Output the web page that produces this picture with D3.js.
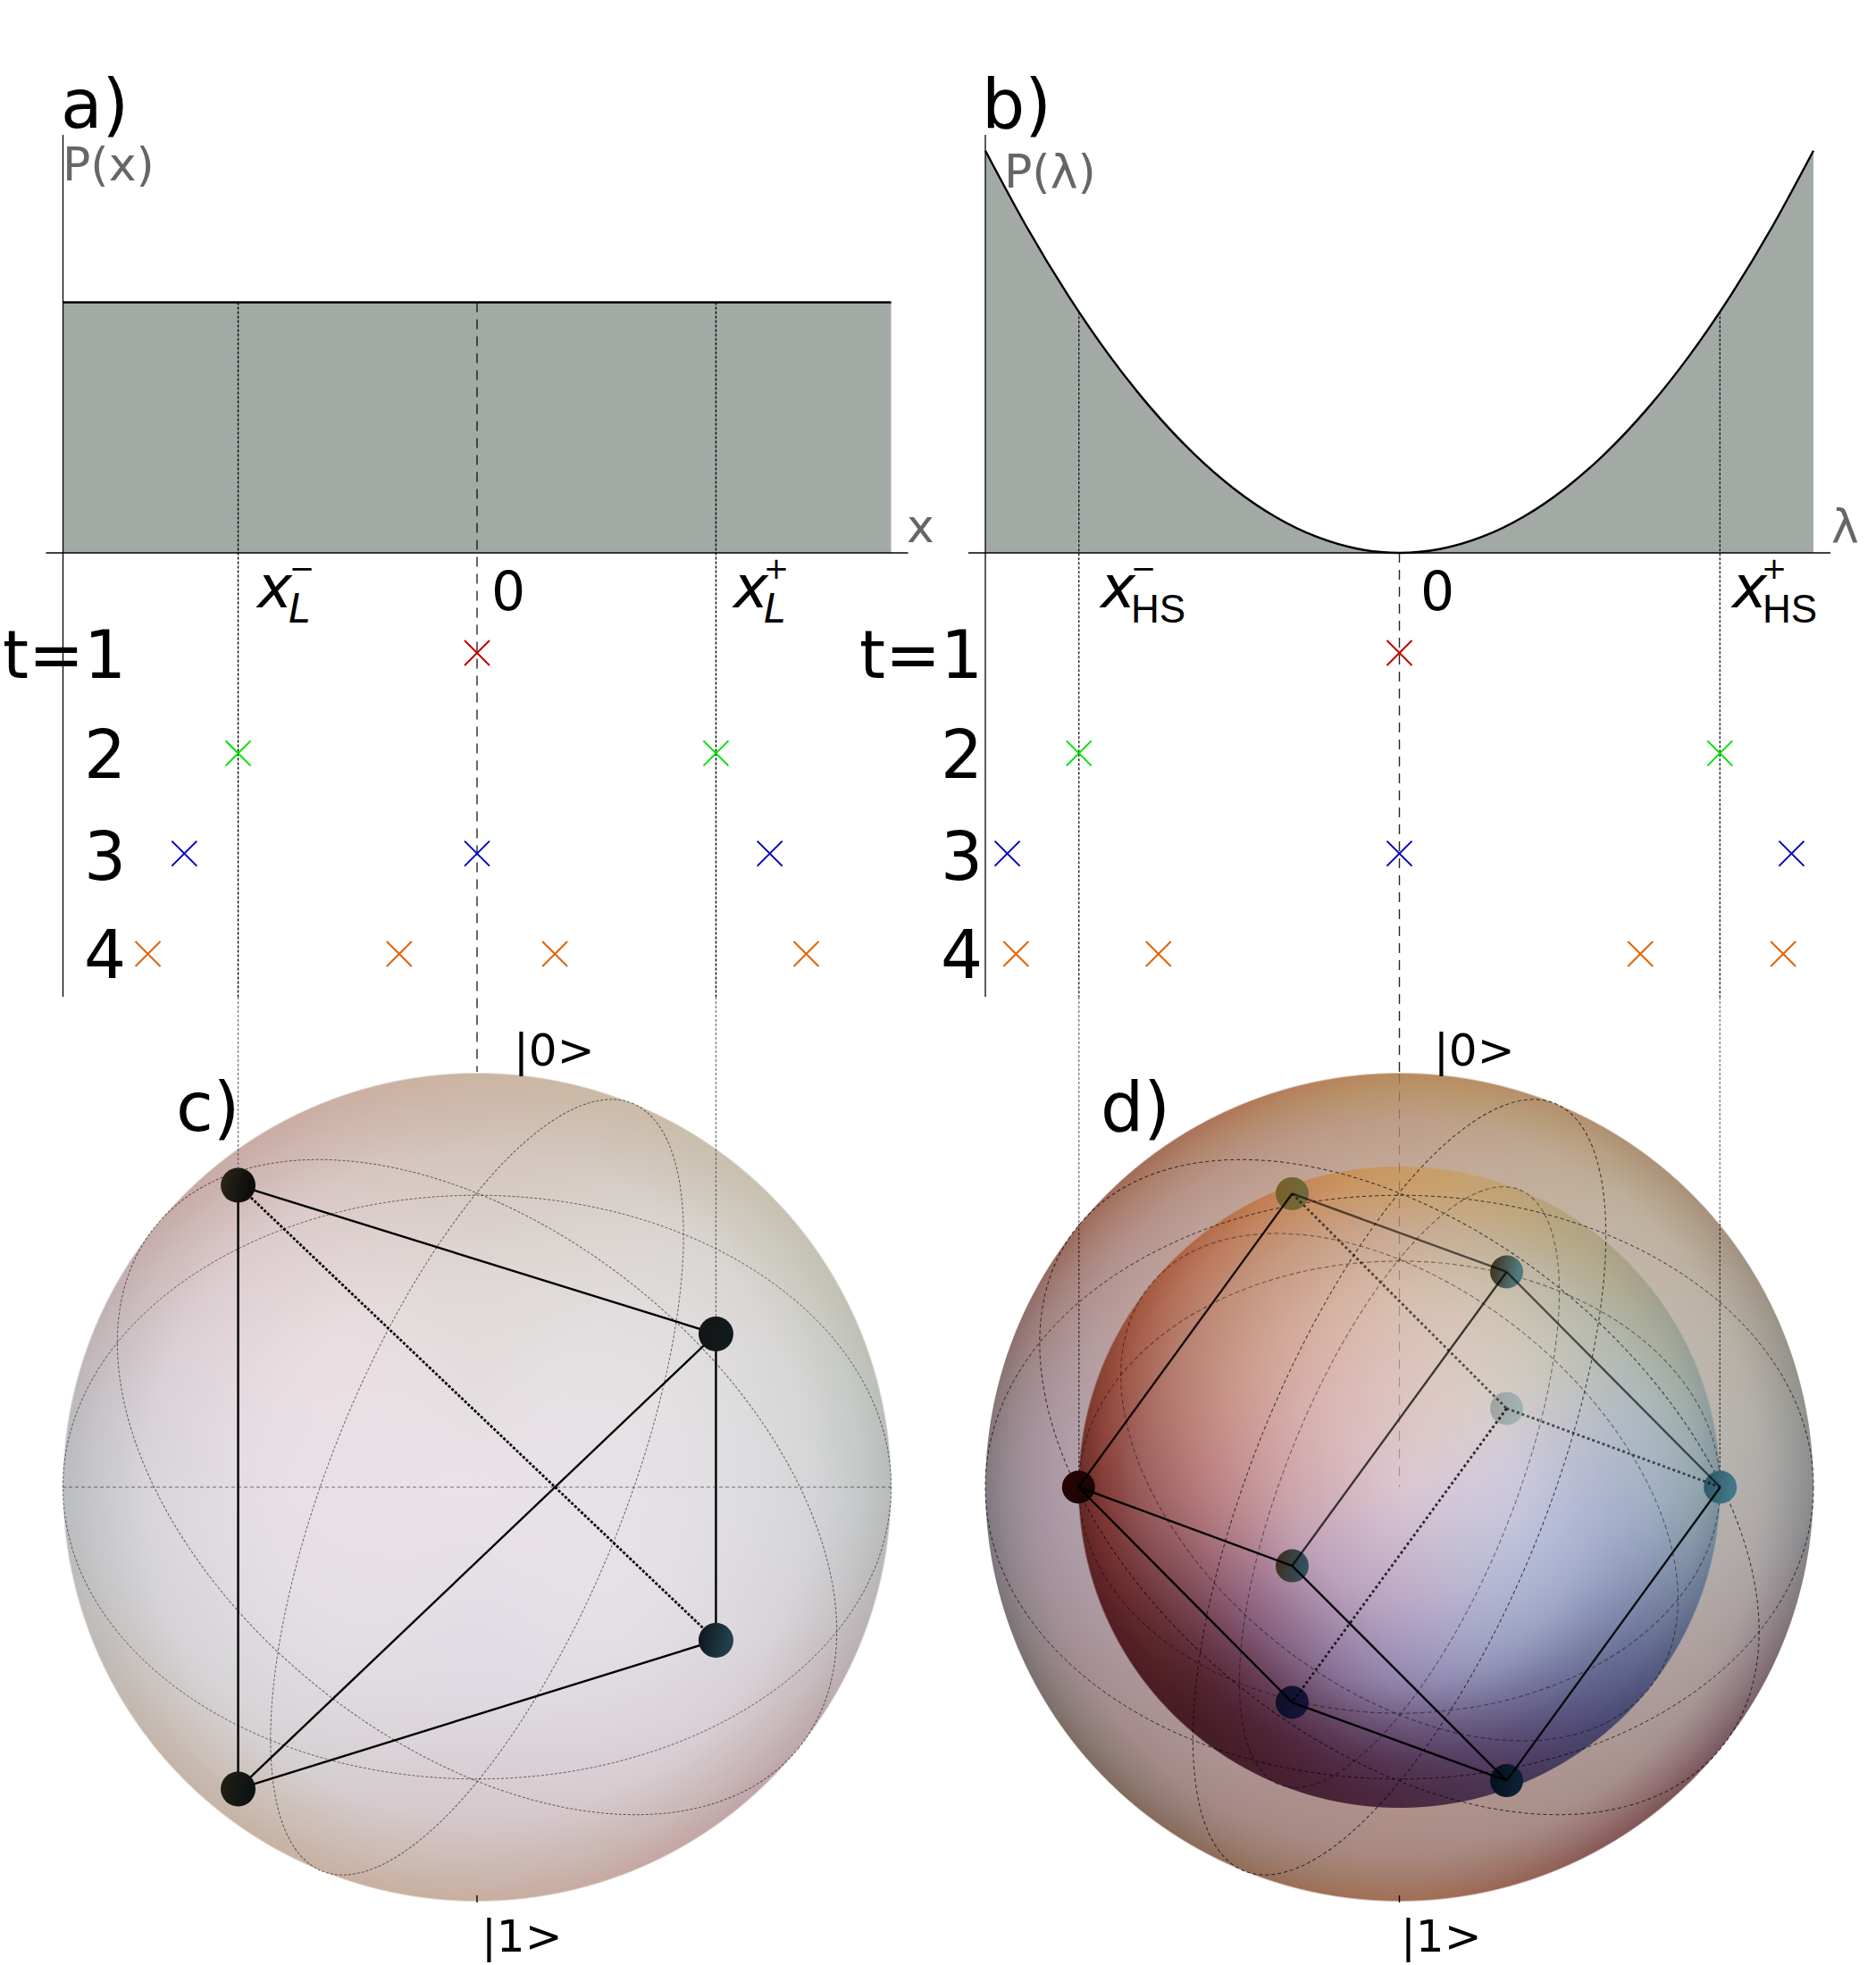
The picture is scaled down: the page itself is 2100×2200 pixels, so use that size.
<!DOCTYPE html>
<html><head><meta charset="utf-8">
<script src="https://cdn.jsdelivr.net/npm/d3@7"></script>
<style>html,body{margin:0;padding:0;background:#fff}svg{display:block}text{font-family:"DejaVu Sans",sans-serif}</style>
</head><body><div id="chart"></div>
<script>
// ---------- data ----------
const rowLabels = ["t=1","2","3","4"];
const rowTimes = [1,2,3,4];
const rowColors = ["#c00000","#00e000","#0000bc","#e06400"];
const legendreRows = [[0],[-0.577,0.577],[-0.707,0,0.707],[-0.795,-0.188,0.188,0.795]];
const hsRows = [[0],[-0.774,0.774],[-0.947,0,0.947],[-0.926,-0.582,0.582,0.927]];
const uniformX = [-1,1];
const uniformP = [0.623,0.623];
const lambdaX = [-1,-0.9,-0.8,-0.7,-0.6,-0.5,-0.4,-0.3,-0.2,-0.1,0,0.1,0.2,0.3,0.4,0.5,0.6,0.7,0.8,0.9,1];
const lambdaP = [1,0.81,0.64,0.49,0.36,0.25,0.16,0.09,0.04,0.01,0,0.01,0.04,0.09,0.16,0.25,0.36,0.49,0.64,0.81,1];
const guidesA = [-0.577,0,0.577];
const guidesB = [-0.774,0,0.774];
// Bloch vectors as seen in the view (x right, y up)
const tetraX = [-0.577,0.577,0.577,-0.577];
const tetraY = [0.729,0.370,-0.370,-0.729];
const tetraSolid = [[0,1],[0,3],[3,1],[3,2],[1,2]];
const tetraDotted = [[0,2]];
const cubeX = [-0.259,0.259,0.259,-0.775,0.775,-0.259,-0.259,0.259];
const cubeY = [0.709,0.520,0.190,0,0,-0.190,-0.520,-0.709];
const cubeSolid = [[0,3,.88],[0,1,.6],[1,4,.62],[1,5,.72],[3,5,.95],[3,6,1],[6,7,1],[5,7,.95],[4,7,.9]];
const cubeDotted = [[0,2,.62],[2,4,.62],[2,6,.8]];
const ballLeftC = ["#2a2418","#151515","#101820","#201c14"];
const ballRightC = ["#0c0c0c","#101a1c","#20404c","#0c1414"];
const ballLeftD = ["#7a5f26","#433620","#a3a39f","#2a0404","#2f5866","#3f3020","#10102a","#06101e"];
const ballRightD = ["#6f6a3c","#4f7a80","#a0b2b2","#180404","#427888","#33505e","#14143a","#0c2034"];
// great circles: major-axis tilt (degrees, clockwise from the horizontal) and minor semi-axis
const circleTilt = [0,39,-68];
const circleMinor = [0.705,0.617,0.355];

// sphere colours: ring radii and eight samples per ring (0,45,...,315 degrees, counter-clockwise from right)
const shadeC = {radii:[0,0.5,0.8,0.93,1],rows:[
 ["#e9e2e8","#e9e2e8","#e9e2e8","#e9e2e8","#e9e2e8","#e9e2e8","#e9e2e8","#e9e2e8"],
 ["#e3e0e4","#e3dfe0","#dfd8d6","#e8dde0","#e6dfe5","#e3dee3","#dfdae1","#e3dfe5"],
 ["#d6d6d8","#d9d5d2","#d4c6be","#dcccce","#d7d4da","#d6d2d4","#d5c8cb","#d8d0d5"],
 ["#c5c8c8","#cdc8bc","#ceb9ab","#cfb8b6","#c6c6ca","#cbbfb8","#ccb8b1","#c9b8ba"],
 ["#b8bcba","#c8c0b0","#cbb5a2","#c7aba8","#bbbcbf","#c4b4a8","#c9ae9f","#bfa6a8"]]};
const shadeOuter = {radii:[0,0.775,0.88,0.95,1],rows:[
 ["#b6b2ae","#c2b5a6","#c2a794","#bd9f98","#b09ea8","#ab9395","#ae9089","#ad9a98"],
 ["#b6b2ae","#c2b5a6","#c2a794","#bd9f98","#b09ea8","#ab9395","#ae9089","#ad9a98"],
 ["#aeaaa8","#bdb09e","#bd9e88","#b4928a","#a6939f","#a48a8a","#a98a82","#a5918f"],
 ["#9a9a9a","#b2a08a","#b9966f","#ab8070","#94888f","#907c76","#a37c6a","#917276"],
 ["#8a8c8c","#a8917a","#b98a5f","#a06a58","#807880","#7f6a5e","#a26e55","#7a555a"]]};
const shadeInner = {radii:[0,0.35,0.6,0.8,0.93,1],rows:[
 ["#dcc6d0","#dcc6d0","#dcc6d0","#dcc6d0","#dcc6d0","#dcc6d0","#dcc6d0","#dcc6d0"],
 ["#ccc8dc","#d8ccc9","#dcc2bc","#d8b4b2","#cca4aa","#bca0b8","#bba9c6","#bdbcd4"],
 ["#b2b8d0","#cbc6ba","#d6bcac","#cfa293","#b97f80","#8a6380","#9286ac","#9ea4c4"],
 ["#a2b0c2","#b9b8a8","#c9aa90","#c08c78","#9a5e5c","#5e3040","#604668","#6f7299"],
 ["#93a5ae","#b0aa90","#ca9e6e","#b7745a","#823c38","#4d2028","#4f2d48","#575780"],
 ["#7f929f","#a8a288","#c99a64","#ad6244","#6a2a28","#481c26","#4a2a40","#4a4a70"]]};

// ---------- helpers ----------
const W=2100,H=2200,FILL="#a3aaa6";
const svg=d3.select("#chart").append("svg").attr("width",W).attr("height",H).attr("viewBox",[0,0,W,H]);
const defs=svg.append("defs");
const xA=d3.scaleLinear([-1,1],[70.5,997.5]), xB=d3.scaleLinear([-1,1],[1103,2030]);
const yP0=619, yA=d3.scaleLinear([0,1],[yP0,168.7]);
const rowY=d3.scaleLinear([1,4],[731,1068]);
const text=(s,x,y,size,o={})=>svg.append("text").attr("x",x).attr("y",y).attr("font-size",size)
  .attr("fill",o.fill||"#000").attr("text-anchor",o.anchor||"start").attr("font-style",o.italic?"italic":null)
  .style("font-family",o.family||null).text(s);
const seg=(x1,y1,x2,y2,o={})=>svg.append("line").attr("x1",x1).attr("y1",y1).attr("x2",x2).attr("y2",y2)
  .attr("stroke",o.color||"#000").attr("stroke-width",o.w||1.4).attr("stroke-dasharray",o.dash||null).attr("stroke-opacity",o.op==null?1:o.op);

function sphereImage(sx,sy,R,shade){
  const size=Math.ceil(R*2)+4, cv=document.createElement("canvas"); cv.width=cv.height=size;
  const ctx=cv.getContext("2d"), img=ctx.createImageData(size,size), c0=size/2;
  const rows=shade.rows.map(r=>r.map(c=>{const k=d3.rgb(c);return [k.r,k.g,k.b]}));
  const cr=(a,b,c,d,t)=>0.5*((2*b)+(c-a)*t+(2*a-5*b+4*c-d)*t*t+(3*b-a-3*c+d)*t*t*t);
  const ring=(row,u,ch)=>{const i=Math.floor(u)%8,t=u-Math.floor(u);return cr(row[(i+7)%8][ch],row[i][ch],row[(i+1)%8][ch],row[(i+2)%8][ch],t)};
  const n=shade.radii.length;
  for(let py=0;py<size;py++)for(let px=0;px<size;px++){
    const dx=px+.5-c0,dy=py+.5-c0,d=Math.hypot(dx,dy),al=Math.max(0,Math.min(1,R-d+.5));
    if(al<=0)continue;
    const r=Math.min(1,d/R);let u=Math.atan2(-dy,dx)/(Math.PI/4);if(u<0)u+=8;
    let k=0;while(k<n-2&&r>shade.radii[k+1])k++;
    const t=(r-shade.radii[k])/(shade.radii[k+1]-shade.radii[k]);
    const i=(py*size+px)*4;
    for(let ch=0;ch<3;ch++){
      const b=ring(rows[k],u,ch),c=ring(rows[k+1],u,ch);
      const a=k>0?ring(rows[k-1],u,ch):2*b-c, e=k<n-2?ring(rows[k+2],u,ch):2*c-b;
      img.data[i+ch]=Math.max(Math.min(b,c)-4,Math.min(Math.max(b,c)+4,cr(a,b,c,e,t)));
    }
    img.data[i+3]=al*255;
  }
  ctx.putImageData(img,0,0);
  svg.append("image").attr("x",sx-c0).attr("y",sy-c0).attr("width",size).attr("height",size).attr("href",cv.toDataURL());
}
function circles(sx,sy,R,op,dash,w){
  const g=svg.append("g").attr("transform",`translate(${sx},${sy})`);
  g.selectAll("ellipse").data(circleTilt.map((t,i)=>[t,circleMinor[i]])).join("ellipse")
   .attr("rx",R).attr("ry",d=>d[1]*R).attr("transform",d=>`rotate(${d[0]})`)
   .attr("fill","none").attr("stroke","#000").attr("stroke-width",w).attr("stroke-opacity",op).attr("stroke-dasharray",dash);
}
function ball(x,y,r,l,rr,id){
  const g=defs.append("linearGradient").attr("id",id).attr("x1",0).attr("x2",1).attr("y1",.15).attr("y2",.35);
  g.append("stop").attr("offset",.1).attr("stop-color",l); g.append("stop").attr("offset",.9).attr("stop-color",rr);
  svg.append("circle").attr("cx",x).attr("cy",y).attr("r",r).attr("fill",`url(#${id})`);
}
const cross=(x,y,c)=>svg.append("path").attr("d",`M${x-14},${y-14}L${x+14},${y+14}M${x-14},${y+14}L${x+14},${y-14}`).attr("stroke",c).attr("stroke-width",2).attr("fill","none");

// ---------- panel a ----------
const areaA=d3.area().x(d=>xA(d[0])).y0(yP0).y1(d=>yA(d[1]));
const ptsA=uniformX.map((x,i)=>[x,uniformP[i]]);
svg.append("path").attr("d",areaA(ptsA)).attr("fill",FILL);
svg.append("path").attr("d",d3.line().x(d=>xA(d[0])).y(d=>yA(d[1]))(ptsA)).attr("fill","none").attr("stroke","#000").attr("stroke-width",2.4);
// ---------- panel b ----------
const ptsB=lambdaX.map((x,i)=>[x,lambdaP[i]]);
svg.append("path").attr("d",d3.area().curve(d3.curveNatural).x(d=>xB(d[0])).y0(yP0).y1(d=>yA(d[1]))(ptsB)).attr("fill",FILL);
svg.append("path").attr("d",d3.line().curve(d3.curveNatural).x(d=>xB(d[0])).y(d=>yA(d[1]))(ptsB)).attr("fill","none").attr("stroke","#000").attr("stroke-width",2.4);

// spheres
sphereImage(xA(0),1665,463.5,shadeC);
sphereImage(xB(0),1665,463.5,shadeOuter);
sphereImage(xB(0),1665,359,shadeInner);
circles(xB(0),1665,463.5,.72,"4 3",1);
circles(xB(0),1665,359,.42,"5 3",1.2);
circles(xA(0),1665,463.5,.55,"3 2",1);
seg(70,1665,998,1665,{dash:"4 3",w:1,op:.5});

// axes
[xA,xB].forEach(x=>{
  seg(x(-1),151,x(-1),1116,{w:1.3});
  seg(x(-1)-19,yP0,x(1)+19,yP0,{w:1.4});
});
// guide lines
guidesA.forEach(v=>{
  const x=xA(v);
  if(v===0){seg(x,yA(.623),x,1200,{dash:"11 8",w:1.4,op:.85});seg(x,2122,x,2130,{w:1.4});return}
  seg(x,yA(.623),x,1116,{dash:"3 2",w:1.4});
  seg(x,1116,x,v<0?1327:1494,{dash:"3 2",w:1.4,color:"#555",op:.75});
});
guidesB.forEach(v=>{
  const x=xB(v);
  if(v===0){seg(x,yP0,x,1200,{dash:"11 8",w:1.4,op:.85});seg(x,1202,x,1665,{dash:"11 9",w:1.2,op:.25});seg(x,2122,x,2130,{w:1.4});return}
  seg(x,yA(v*v),x,1116,{dash:"3 2",w:1.2});
  seg(x,1116,x,1370,{dash:"3 2",w:1.4,color:"#555",op:.75});
  seg(x,1370,x,1665,{dash:"3 2",w:1.2,op:.7});
});
// marks
rowTimes.forEach((t,i)=>{
  legendreRows[i].forEach(v=>cross(xA(v),rowY(t),rowColors[i]));
  hsRows[i].forEach(v=>cross(xB(v),rowY(t),rowColors[i]));
});
// tetrahedron
const sA=(v)=>xA(v), sY=d3.scaleLinear([-1,1],[1665+463.5,1665-463.5]), sB=(v)=>xB(v);
tetraSolid.forEach(([a,b])=>seg(sA(tetraX[a]),sY(tetraY[a]),sA(tetraX[b]),sY(tetraY[b]),{w:2.4}));
tetraDotted.forEach(([a,b])=>seg(sA(tetraX[a]),sY(tetraY[a]),sA(tetraX[b]),sY(tetraY[b]),{w:2.8,dash:"3 2"}));
tetraX.forEach((v,i)=>ball(sA(v),sY(tetraY[i]),19.5,ballLeftC[i],ballRightC[i],"bc"+i));
// cube
cubeX.forEach((v,i)=>ball(sB(v),sY(cubeY[i]),18.5,ballLeftD[i],ballRightD[i],"bd"+i));
cubeSolid.forEach(([a,b,o])=>seg(sB(cubeX[a]),sY(cubeY[a]),sB(cubeX[b]),sY(cubeY[b]),{w:2.4,op:o}));
cubeDotted.forEach(([a,b,o])=>seg(sB(cubeX[a]),sY(cubeY[a]),sB(cubeX[b]),sY(cubeY[b]),{w:2.8,dash:"3 3",op:o}));

// ---------- text ----------
text("a)",68,143,76); text("b)",1099,143,76); text("c)",197,1266,76); text("d)",1232,1266,76);
text("P(x)",70,202,52,{fill:"#666"}); text("P(λ)",1124,210,52,{fill:"#666"});
text("x",1015,607,52,{fill:"#666"}); text("λ",2050,607,52,{fill:"#666"});
rowLabels.forEach((s,i)=>{
  const by=[759,871,985,1095][i];
  text(s,141,by,74,{anchor:"end"});
  text(s,1100,by,74,{anchor:"end"});
});
text("0",550,683,60); text("0",1590,683,60);
// one text element per label: base, subscript and superscript are tspans of it
function xlabel(x,subX,subText,mark,markX,italicSub){
  const t=svg.append("text");
  t.append("tspan").attr("x",x).attr("y",680).attr("font-size",66).attr("font-style","italic").text("x");
  t.append("tspan").attr("x",markX).attr("y",648).attr("font-size",34).attr("text-anchor","middle").text(mark);
  t.append("tspan").attr("x",subX).attr("y",697).attr("font-size",44).attr("font-style",italicSub?"italic":null)
   .style("font-family",italicSub?null:"'Liberation Sans'").text(subText);
}
xlabel(288,323,"L","−",338,true); xlabel(821,855,"L","+",869,true);
xlabel(1232,1266,"HS","−",1280,false); xlabel(1939,1973,"HS","+",1986,false);
text("|0>",575,1193,50); text("|1>",539,2185,50);
text("|0>",1605,1193,50); text("|1>",1568,2185,50);
</script></body></html>
